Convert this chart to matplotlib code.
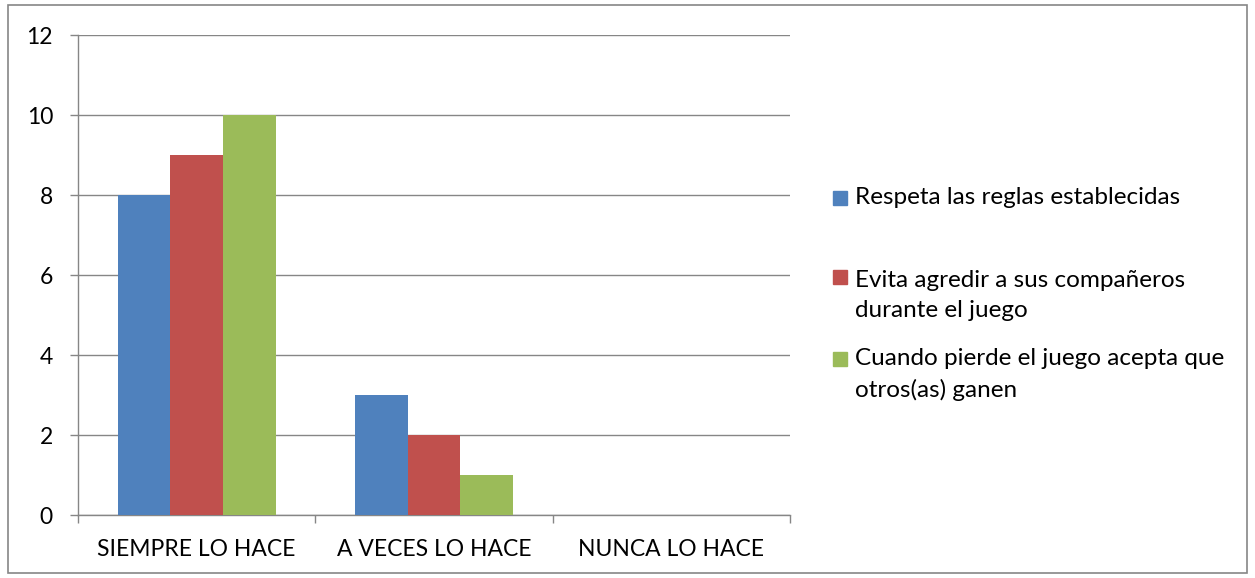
import matplotlib
matplotlib.use("Agg")
import matplotlib.pyplot as plt
from matplotlib.patches import Rectangle
import numpy as np

categories = ["SIEMPRE LO HACE", "A VECES LO HACE", "NUNCA LO HACE"]
series_names = ["Respeta las reglas establecidas",
                "Evita agredir a sus compañeros\ndurante el juego",
                "Cuando pierde el juego acepta que\notros(as) ganen"]
respeta = [8, 3, 0]
evita = [9, 2, 0]
cuando = [10, 1, 0]
colors = ["#4F81BD", "#C0504D", "#9BBB59"]
yticks = [0, 2, 4, 6, 8, 10, 12]

plt.rcParams['font.family'] = ['Lato', 'DejaVu Sans']
FS = 16.5
LFS = 17.5
W, H = 1255, 578
fig = plt.figure(figsize=(W/100, H/100), dpi=100)
ax = fig.add_axes([78/W, 1-515/H, 712/W, 480/H])

x = np.arange(len(categories))
bw = 1/4.5
for i, (vals, c) in enumerate(zip([respeta, evita, cuando], colors)):
    ax.bar(x + (i-1)*bw, vals, width=bw, color=c, edgecolor='none', zorder=3)

ax.set_xlim(-0.5, 2.5)
ax.set_ylim(0, 12)
ax.set_yticks(yticks)
ax.set_yticklabels([str(v) for v in yticks], fontsize=FS)
ax.yaxis.grid(True, color='#868686', linewidth=1.0, zorder=0)
ax.set_axisbelow(True)
ax.set_xticks([-0.5, 0.5, 1.5, 2.5])
ax.set_xticklabels([])
ax.set_xticks(x, minor=True)
ax.set_xticklabels(categories, minor=True, fontsize=FS)
ax.tick_params(axis='x', which='minor', length=0, pad=17)
ax.tick_params(axis='x', which='major', length=6, color='#868686', width=1)
ax.tick_params(axis='y', length=6, color='#868686', width=1, pad=12)
for s in ['top', 'right']:
    ax.spines[s].set_visible(False)
for s in ['left', 'bottom']:
    ax.spines[s].set_color('#868686')
    ax.spines[s].set_linewidth(1.0)

# legend (manual, Excel-like spacing)
marker_tops = [191, 270, 352]
baselines = [[204], [287, 317], [365, 397]]
for name, c, mt, bls in zip(series_names, colors, marker_tops, baselines):
    fig.patches.append(Rectangle((833/W, 1-(mt+14)/H), 14/W, 14/H,
                                 transform=fig.transFigure, color=c))
    for line, bl in zip(name.split("\n"), bls):
        fig.text(855/W, 1-bl/H, line, fontsize=LFS, va='baseline', ha='left')

# outer border
fig.patches.append(Rectangle((8/W, 1-573/H), 1239/W, 568/H, transform=fig.transFigure,
                             fill=False, edgecolor='#868686', linewidth=1.2))

fig.savefig("out.png", dpi=100)
